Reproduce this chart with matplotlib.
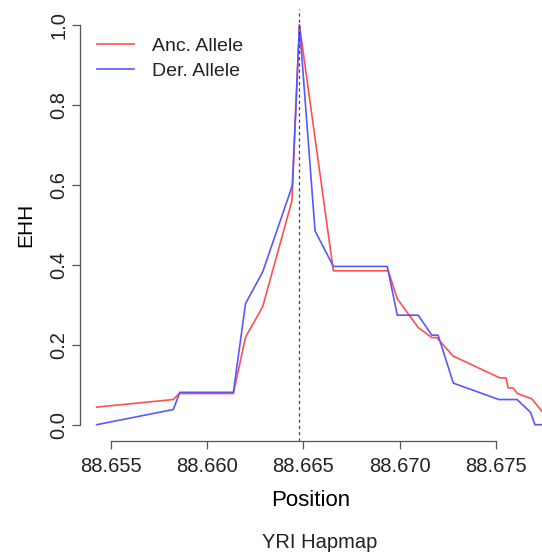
import matplotlib
matplotlib.use('Agg')
from matplotlib import pyplot as plt

plt.rcParams['font.family'] = ['Liberation Sans', 'DejaVu Sans']
plt.rcParams['text.color'] = '#222222'

# EHH decay around the core SNP, ancestral vs derived allele
anc_pos = [88.65427, 88.65825, 88.65856, 88.66137, 88.66200, 88.66289, 88.66441,
           88.66480, 88.66656, 88.66941, 88.66988, 88.67097, 88.67167, 88.67193,
           88.67277, 88.67521, 88.67552, 88.67564, 88.67590, 88.67611, 88.67686,
           88.67745]
anc_ehh = [0.044, 0.063, 0.078, 0.078, 0.219, 0.295, 0.560,
           1.0, 0.385, 0.385, 0.315, 0.243, 0.218, 0.218,
           0.172, 0.117, 0.117, 0.092, 0.092, 0.078, 0.065,
           0.030]

der_pos = [88.65427, 88.65825, 88.65859, 88.66137, 88.66200, 88.66289, 88.66443,
           88.66480, 88.66561, 88.66656, 88.66936, 88.66988, 88.67097, 88.67167,
           88.67200, 88.67279, 88.67515, 88.67610, 88.67680, 88.67703, 88.67745]
der_ehh = [0.0, 0.038, 0.081, 0.081, 0.303, 0.382, 0.598,
           1.0, 0.485, 0.396, 0.396, 0.274, 0.274, 0.224,
           0.224, 0.104, 0.063, 0.063, 0.031, 0.0, 0.0]

core_pos = 88.6648
x_ticks = [88.655, 88.660, 88.665, 88.670, 88.675]
y_ticks = [0.0, 0.2, 0.4, 0.6, 0.8, 1.0]

fig = plt.figure(figsize=(5.42, 5.56), dpi=100)
ax = fig.add_axes([80 / 542, 115.3 / 556, 462 / 542, 431.7 / 556])

ax.plot(anc_pos, anc_ehh, color='#ff5050', lw=1.2, label='Anc. Allele')
ax.plot(der_pos, der_ehh, color='#5858ff', lw=1.2, label='Der. Allele')
ax.axvline(core_pos, color='#444444', lw=0.9, ls=(0, (2.5, 2.5)))

ax.set_xlim(88.653406, 88.677394)
ax.set_ylim(-0.04, 1.04)

# R-style axes: no box, axis lines only across the tick range
for side in ['top', 'right']:
    ax.spines[side].set_visible(False)
for side in ['left', 'bottom']:
    ax.spines[side].set_color('#555555')
    ax.spines[side].set_linewidth(0.9)
ax.spines['bottom'].set_bounds(x_ticks[0], x_ticks[-1])
ax.spines['left'].set_bounds(y_ticks[0], y_ticks[-1])

ax.set_xticks(x_ticks)
ax.set_xticklabels(['%.3f' % v for v in x_ticks])
ax.set_yticks(y_ticks)
ax.set_yticklabels(['%.1f' % v for v in y_ticks], rotation=90, va='center')
ax.tick_params(axis='both', direction='out', length=5.5, width=0.9,
               color='#555555', labelsize=14.5, labelcolor='#222222')
ax.tick_params(axis='x', pad=6)
ax.tick_params(axis='y', pad=3)

ax.set_xlabel('Position', fontsize=16, labelpad=10)
ax.set_ylabel('EHH', fontsize=15, labelpad=10)

fig.text(320 / 542, 1 - 542 / 556, 'YRI Hapmap', fontsize=14.5,
         ha='center', va='center')

ax.legend(loc='upper left', bbox_to_anchor=(0.02, 0.953), frameon=False,
          fontsize=14, handlelength=1.9, handletextpad=0.93, labelspacing=0.39,
          borderaxespad=0.0)

fig.savefig('out.png', dpi=100)
